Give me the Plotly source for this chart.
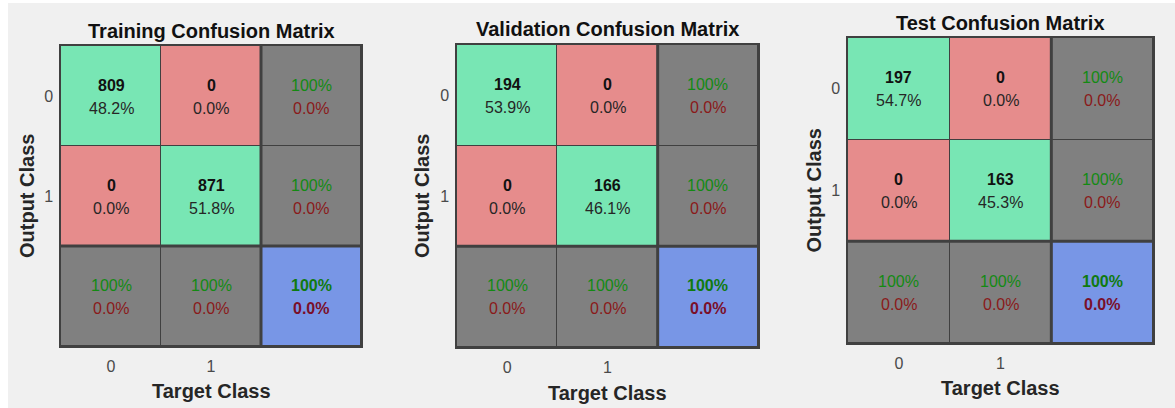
import plotly.graph_objects as go

W, H = 1175, 408

titles = ["Training Confusion Matrix", "Validation Confusion Matrix", "Test Confusion Matrix"]
class_labels = ["0", "1"]
train_counts = [[809, 0], [0, 871]]
val_counts = [[194, 0], [0, 166]]
test_counts = [[197, 0], [0, 163]]
all_counts = [train_counts, val_counts, test_counts]

# plot-area pixel boxes (x0, x1, y0, y1) for the three panels
boxes = [(61, 361, 46, 346), (457, 758, 45, 347), (848, 1153, 38, 343)]
title_y = [31, 29, 23]
ylab_x = [27, 422, 813]
xlab_y = [391, 393, 388]

GREEN = "#78e6b4"
RED = "#e68c8c"
GRAY = "#808080"
BLUE = "#7896e6"
TXT_GREEN = "#138a13"
TXT_RED = "#8a1a1a"
FONT = "Liberation Sans, Arial, sans-serif"

fig = go.Figure()
annotations = []
shapes = []


def px(x):
    return x / W


def py(y):
    return 1 - y / H


for i, counts in enumerate(all_counts):
    x0, x1, y0, y1 = boxes[i]
    n = len(counts)
    total = sum(sum(r) for r in counts)
    # category codes: 0 correct, 1 wrong, 2 summary, 3 overall
    z = []
    for r in range(n + 1):
        row = []
        for c in range(n + 1):
            if r == n and c == n:
                row.append(3)
            elif r == n or c == n:
                row.append(2)
            elif r == c:
                row.append(0)
            else:
                row.append(1)
        z.append(row)
    xa = "x" if i == 0 else f"x{i+1}"
    ya = "y" if i == 0 else f"y{i+1}"
    fig.add_trace(go.Heatmap(
        z=z, x=list(range(n + 1)), y=list(range(n + 1)),
        xaxis=xa, yaxis=ya, zmin=0, zmax=3,
        colorscale=[[0, GREEN], [0.25, GREEN], [0.25, RED], [0.5, RED],
                    [0.5, GRAY], [0.75, GRAY], [0.75, BLUE], [1, BLUE]],
        showscale=False, xgap=1, ygap=1, hoverinfo="skip",
    ))
    axn = "" if i == 0 else str(i + 1)
    fig.layout["xaxis" + axn] = dict(
        domain=[px(x0), px(x1)], range=[-0.5, n + 0.5], anchor=ya,
        tickvals=list(range(n)), ticktext=class_labels,
        ticks="outside", ticklen=5, tickcolor="rgba(0,0,0,0)",
        tickfont=dict(family=FONT, size=16, color="#4a4a4a"),
        showgrid=False, zeroline=False, showline=True, mirror=True,
        linecolor="#404040", linewidth=1.5, fixedrange=True,
    )
    fig.layout["yaxis" + axn] = dict(
        domain=[py(y1), py(y0)], range=[n + 0.5, -0.5], anchor=xa,
        tickvals=list(range(n)), ticktext=class_labels,
        ticks="outside", ticklen=3, tickcolor="rgba(0,0,0,0)",
        tickfont=dict(family=FONT, size=16, color="#4a4a4a"),
        showgrid=False, zeroline=False, showline=True, mirror=True,
        linecolor="#404040", linewidth=1.5, fixedrange=True,
    )
    # thick separators
    shapes.append(dict(type="line", xref=xa, yref=ya, x0=n - 0.5, x1=n - 0.5,
                       y0=-0.5, y1=n + 0.5, line=dict(color="#404040", width=3)))
    shapes.append(dict(type="line", xref=xa, yref=ya, y0=n - 0.5, y1=n - 0.5,
                       x0=-0.5, x1=n + 0.5, line=dict(color="#404040", width=3)))

    def cell_text(cx, cy, l1, l2, c1, c2, b1, b2):
        t1 = f"<b>{l1}</b>" if b1 else l1
        t2 = f"<b>{l2}</b>" if b2 else l2
        annotations.append(dict(x=cx, y=cy, xref=xa, yref=ya, text=t1, showarrow=False,
                                yshift=11, font=dict(family=FONT, size=16, color=c1)))
        annotations.append(dict(x=cx, y=cy, xref=xa, yref=ya, text=t2, showarrow=False,
                                yshift=-12, font=dict(family=FONT, size=16, color=c2)))

    for r in range(n):
        for c in range(n):
            v = counts[r][c]
            cell_text(c, r, str(v), f"{100 * v / total:.1f}%", "#111111", "#262626", True, False)
    # row summaries (precision)
    for r in range(n):
        s = sum(counts[r])
        p = 100 * counts[r][r] / s if s else 0
        cell_text(n, r, f"{p:.0f}%", f"{100 - p:.1f}%", TXT_GREEN, TXT_RED, False, False)
    # column summaries (recall)
    for c in range(n):
        s = sum(counts[r][c] for r in range(n))
        p = 100 * counts[c][c] / s if s else 0
        cell_text(c, n, f"{p:.0f}%", f"{100 - p:.1f}%", TXT_GREEN, TXT_RED, False, False)
    acc = 100 * sum(counts[k][k] for k in range(n)) / total
    cell_text(n, n, f"{acc:.0f}%", f"{100 - acc:.1f}%", "#0f7a0f", "#7a0f2a", True, True)

    # titles and axis labels
    xc = (x0 + x1) / 2
    yc = (y0 + y1) / 2
    annotations.append(dict(x=px(xc), y=py(title_y[i]), xref="paper", yref="paper",
                            text=f"<b>{titles[i]}</b>", showarrow=False,
                            xanchor="center", yanchor="middle",
                            font=dict(family=FONT, size=20, color="#111111")))
    annotations.append(dict(x=px(xc), y=py(xlab_y[i]), xref="paper", yref="paper",
                            text="<b>Target Class</b>", showarrow=False,
                            xanchor="center", yanchor="middle",
                            font=dict(family=FONT, size=20, color="#262626")))
    annotations.append(dict(x=px(ylab_x[i]), y=py(yc), xref="paper", yref="paper",
                            text="<b>Output Class</b>", showarrow=False, textangle=-90,
                            xanchor="center", yanchor="middle",
                            font=dict(family=FONT, size=20, color="#262626")))

# thin white strips at image edges
shapes.append(dict(type="rect", xref="paper", yref="paper", x0=0, x1=px(8), y0=0, y1=1,
                   fillcolor="white", line=dict(width=0), layer="below"))
shapes.append(dict(type="rect", xref="paper", yref="paper", x0=0, x1=1, y0=py(3), y1=1,
                   fillcolor="white", line=dict(width=0), layer="below"))

fig.update_layout(
    width=W, height=H, margin=dict(l=0, r=0, t=0, b=0),
    paper_bgcolor="#f0f0f0", plot_bgcolor="#404040",
    annotations=annotations, shapes=shapes, showlegend=False,
)
fig.write_html("out.html", config={"displayModeBar": False},
               post_script="document.body.style.margin='0px';document.body.style.overflow='hidden';")
